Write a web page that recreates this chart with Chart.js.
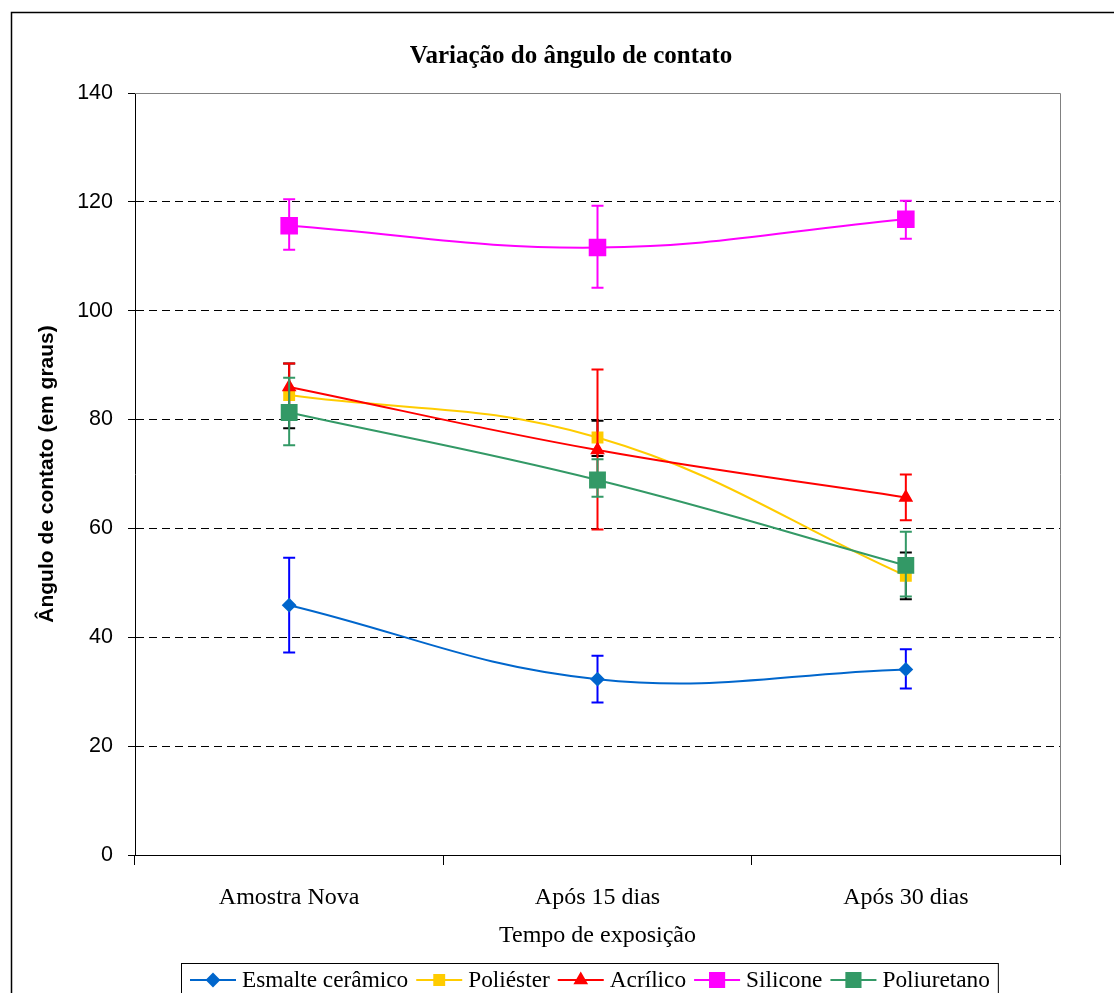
<!DOCTYPE html>
<html lang="pt">
<head>
<meta charset="UTF-8">
<title>Variação do ângulo de contato</title>
<script src="https://cdn.jsdelivr.net/npm/chart.js"></script>
<style>
  body { margin: 0; background: #fff; }
  #wrap { width: 1114px; height: 993px; }
</style>
</head>
<body>
<div id="wrap"><canvas id="grafico" width="1114" height="993"></canvas></div>
<script>
// dados
const categorias = ["Amostra Nova", "Após 15 dias", "Após 30 dias"];

const esmalte = [45.9, 32.3, 34.1];
const esmalteSup = [54.6, 36.6, 37.8];
const esmalteInf = [37.2, 28.0, 30.6];

const poliester = [84.5, 76.7, 51.3];
const poliesterSup = [90.3, 79.8, 55.6];
const poliesterInf = [78.4, 73.3, 47.0];

const acrilico = [86.0, 74.4, 65.7];
const acrilicoSup = [90.3, 89.2, 69.9];
const acrilicoInf = [81.7, 59.8, 61.5];

const silicone = [115.6, 111.6, 116.8];
const siliconeSup = [120.5, 119.3, 120.2];
const siliconeInf = [111.2, 104.2, 113.2];

const poliuretano = [81.3, 68.9, 53.2];
const poliuretanoSup = [87.7, 72.7, 59.4];
const poliuretanoInf = [75.3, 65.8, 47.5];

const yTicks = [0, 20, 40, 60, 80, 100, 120, 140];

const serie = (label, data, sup, inf, cor, corErro, estilo, raio, raioLeg, ordem) => ({
  label, data, sup, inf, corErro, raioLeg,
  borderColor: cor, backgroundColor: cor,
  pointBackgroundColor: cor, pointBorderColor: cor,
  pointStyle: estilo, pointRadius: raio, pointHoverRadius: raio,
  borderWidth: 2, tension: 0.4, order: ordem
});

const datasets = [
  serie("Esmalte cerâmico", esmalte, esmalteSup, esmalteInf, "#0066CC", "#0000FF", "rectRot", 6, 6, 5),
  serie("Poliéster", poliester, poliesterSup, poliesterInf, "#FFCC00", "#000000", "rect", 7, 7, 4),
  serie("Acrílico", acrilico, acrilicoSup, acrilicoInf, "#FF0000", "#FF0000", "triangle", 6.5, 6.5, 3),
  serie("Silicone", silicone, siliconeSup, siliconeInf, "#FF00FF", "#FF00FF", "rect", 11, 10, 2),
  serie("Poliuretano", poliuretano, poliuretanoSup, poliuretanoInf, "#339966", "#339966", "rect", 10.5, 10, 1)
];

// barras de erro desenhadas antes de cada série
const barrasErro = {
  id: "barrasErro",
  beforeDatasetDraw(chart, args) {
    const ds = chart.data.datasets[args.index];
    const meta = args.meta;
    const y = chart.scales.y;
    const ctx = chart.ctx;
    ctx.save();
    ctx.strokeStyle = ds.corErro;
    ctx.lineWidth = 2;
    meta.data.forEach((pt, i) => {
      const yS = y.getPixelForValue(ds.sup[i]);
      const yI = y.getPixelForValue(ds.inf[i]);
      ctx.beginPath();
      ctx.moveTo(pt.x, yS); ctx.lineTo(pt.x, yI);
      ctx.moveTo(pt.x - 6, yS); ctx.lineTo(pt.x + 6, yS);
      ctx.moveTo(pt.x - 6, yI); ctx.lineTo(pt.x + 6, yI);
      ctx.stroke();
    });
    ctx.restore();
  }
};

// moldura, título e legenda
const moldura = {
  id: "moldura",
  beforeDatasetsDraw(chart) {
    const {ctx, chartArea: a} = chart;
    ctx.save();
    ctx.strokeStyle = "#808080";
    ctx.lineWidth = 1;
    ctx.beginPath();
    ctx.moveTo(a.left, a.top + 0.5);
    ctx.lineTo(a.right + 0.5, a.top + 0.5);
    ctx.lineTo(a.right + 0.5, a.bottom);
    ctx.stroke();
    ctx.restore();
  },
  afterDraw(chart) {
    const ctx = chart.ctx;
    ctx.save();
    ctx.strokeStyle = "#000";
    ctx.lineWidth = 1.5;
    ctx.strokeRect(11.5, 12.5, 1300, 1300);

    ctx.fillStyle = "#000";
    ctx.font = "bold 25px 'Liberation Serif', serif";
    ctx.textAlign = "center";
    ctx.textBaseline = "middle";
    ctx.fillText("Variação do ângulo de contato", 571, 57);

    // legenda
    ctx.font = "23.3px 'Liberation Serif', serif";
    ctx.textAlign = "left";
    let x = 190;
    const yl = 980;
    const itens = [];
    chart.data.datasets.forEach(ds => {
      itens.push({ds, x});
      x += 46 + 6 + ctx.measureText(ds.label).width + 8;
    });
    const direita = x;
    ctx.strokeStyle = "#000";
    ctx.lineWidth = 1;
    ctx.strokeRect(181.5, 963.5, direita - 181, 100);
    itens.forEach(({ds, x}) => {
      ctx.strokeStyle = ds.borderColor;
      ctx.lineWidth = 2;
      ctx.beginPath();
      ctx.moveTo(x, yl); ctx.lineTo(x + 46, yl);
      ctx.stroke();
      ctx.fillStyle = ds.borderColor;
      Chart.helpers.drawPoint(ctx, {pointStyle: ds.pointStyle, radius: ds.raioLeg, borderWidth: 1, rotation: 0}, x + 23, yl);
      ctx.fillStyle = "#000";
      ctx.fillText(ds.label, x + 52, yl + 1);
    });
    ctx.restore();
  }
};

new Chart(document.getElementById("grafico"), {
  type: "line",
  data: { labels: categorias, datasets },
  plugins: [barrasErro, moldura],
  options: {
    responsive: false,
    animation: false,
    layout: { padding: { top: 93, right: 54, bottom: 0, left: 0 } },
    plugins: {
      legend: { display: false },
      title: { display: false },
      tooltip: { enabled: false }
    },
    scales: {
      x: {
        offset: true,
        afterFit: s => { s.height = 138; },
        grid: { offset: true, drawOnChartArea: false, drawTicks: true, tickLength: 10, tickColor: "#000", tickWidth: 1 },
        border: { color: "#000", width: 1 },
        ticks: { color: "#000", padding: 18, font: { family: "'Liberation Serif', serif", size: 24 } },
        title: { display: true, text: "Tempo de exposição", color: "#000",
                 padding: { top: 0, bottom: 43 }, font: { family: "'Liberation Serif', serif", size: 24 } }
      },
      y: {
        min: 0, max: 140,
        afterFit: s => { s.width = 135; },
        afterBuildTicks: s => { s.ticks = yTicks.map(v => ({ value: v })); },
        grid: {
          color: c => (c.tick && c.tick.value === 140) ? "#808080" : "#000",
          tickColor: "#000", tickLength: 7, tickBorderDash: [], lineWidth: 1
        },
        border: { color: "#000", width: 1,
                  dash: c => (c.tick && c.tick.value !== 140) ? [8, 5] : [] },
        ticks: { color: "#000", padding: 15, font: { family: "'Liberation Sans', Arial, sans-serif", size: 21.5 } },
        title: { display: true, text: "Ângulo de contato (em graus)", color: "#000",
                 padding: { top: 35, bottom: 0 },
                 font: { family: "'Liberation Sans', Arial, sans-serif", size: 21, weight: "bold" } }
      }
    }
  }
});
</script>
</body>
</html>
